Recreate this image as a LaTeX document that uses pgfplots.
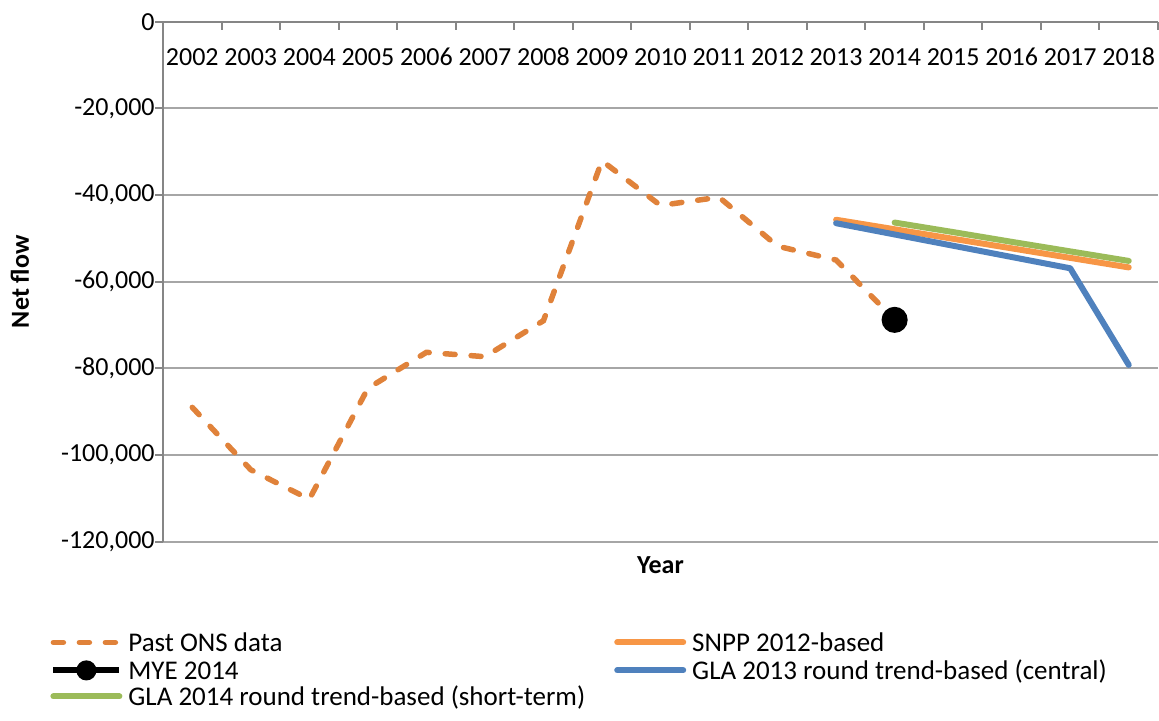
\documentclass[border=0pt]{standalone}
\usepackage{pgfplots}
\pgfplotsset{compat=1.18}
\usepackage{fontspec}
\setmainfont{Carlito}[Numbers=Monospaced]
\definecolor{onsorange}{HTML}{E0823A}
\definecolor{snpporange}{HTML}{F79646}
\definecolor{glablue}{HTML}{4F81BD}
\definecolor{glagreen}{HTML}{9BBB59}
\definecolor{axisgray}{HTML}{868686}
\definecolor{gridgray}{HTML}{A6A6A6}
\newcommand{\ls}{\rule[-3.5pt]{0pt}{14pt}}
\pgfplotsset{
  linelegend/.style={legend image code/.code={\path (0pt,6pt); \draw[##1] (0pt,0pt) -- (33pt,0pt);}},
  myelegend/.style={legend image code/.code={\path (0pt,7pt); \draw[##1, mark size=3.5pt, mark repeat=2, mark phase=2] plot coordinates {(0pt,0pt) (16.5pt,0pt) (33pt,0pt)};}},
}
\begin{document}
\begin{tikzpicture}
\useasboundingbox (0,0) rectangle (579.5pt,360pt);
\begin{axis}[
  at={(81.5pt,89.15pt)}, anchor=south west,
  scale only axis, width=497.5pt, height=260pt,
  xmin=-0.5, xmax=16.5, ymin=-120000, ymax=0,
  axis x line*=top, axis y line*=left,
  axis line style={-, draw=axisgray, line width=1pt},
  xtick={-0.5,0.5,1.5,2.5,3.5,4.5,5.5,6.5,7.5,8.5,9.5,10.5,11.5,12.5,13.5,14.5,15.5,16.5},
  x tick label as interval,
  xticklabels={2002,2003,2004,2005,2006,2007,2008,2009,2010,2011,2012,2013,2014,2015,2016,2017,2018},
  ytick={-120000,-100000,-80000,-60000,-40000,-20000,0},
  yticklabels={{-120,000},{-100,000},{-80,000},{-60,000},{-40,000},{-20,000},{0}},
  scaled y ticks=false, scaled x ticks=false,
  ymajorgrids,
  grid style={draw=gridgray, line width=1pt},
  tick align=outside,
  major tick length=4pt,
  tick style={draw=axisgray, line width=1pt},
  xtick style={yshift=-4pt},
  font=\fontsize{13}{16}\selectfont,
  ticklabel style={font=\fontsize{13}{16}\selectfont},
  yticklabel style={inner sep=0pt, anchor=east},
  xticklabel style={inner sep=0pt, anchor=center, yshift=-21.65pt},
  xlabel={\textbf{Year}},
  ylabel={\textbf{Net flow}},
  xlabel style={at={(axis description cs:0.5,-0.0448)}, anchor=center, inner sep=0pt},
  ylabel style={at={(axis description cs:-0.1437,0.5)}, anchor=center, rotate=0, inner sep=0pt},
  legend columns=2,
  legend cell align=left,
  legend style={at={(-0.11357,-0.1640)}, anchor=north west, draw=none, fill=none,
    inner sep=0pt, font=\fontsize{13.5}{16}\selectfont,
    nodes={inner sep=0pt},
    row sep=-0.5pt,
    /tikz/every odd column/.append style={column sep=3pt},
    /tikz/every even column/.append style={column sep=14.5pt}},
  linelegend,
  clip=false,
]
\addplot[onsorange, line width=2.75pt, line cap=round, dash pattern=on 5pt off 8pt]
  coordinates {(0,-89000) (1,-103400) (2,-110200) (3,-84600) (4,-76300) (5,-77300) (6,-69000) (7,-32100) (8,-42400) (9,-40500) (10,-51800) (11,-55000) (12,-68800)};
\addlegendentry{\ls Past ONS data}
\addplot[snpporange, line width=3pt, line cap=round]
  coordinates {(11,-45700) (12,-47900) (13,-50100) (14,-52300) (15,-54500) (16,-56700)};
\addlegendentry{\ls SNPP 2012-based}
\addplot[black, line width=3pt, mark=*, mark size=5pt, mark options={solid, fill=black}, myelegend]
  coordinates {(12,-68800)};
\addlegendentry{\ls MYE 2014}
\addplot[glablue, line width=3pt, line cap=round, line join=round]
  coordinates {(11,-46500) (12,-49100) (13,-51700) (14,-54300) (15,-56900) (16,-79200)};
\addlegendentry{\ls GLA 2013 round trend-based (central)}
\addplot[glagreen, line width=3pt, line cap=round]
  coordinates {(12,-46350) (13,-48550) (14,-50800) (15,-53000) (16,-55200)};
\addlegendentry{\ls GLA 2014 round trend-based (short-term)}
\end{axis}
\end{tikzpicture}
\end{document}
